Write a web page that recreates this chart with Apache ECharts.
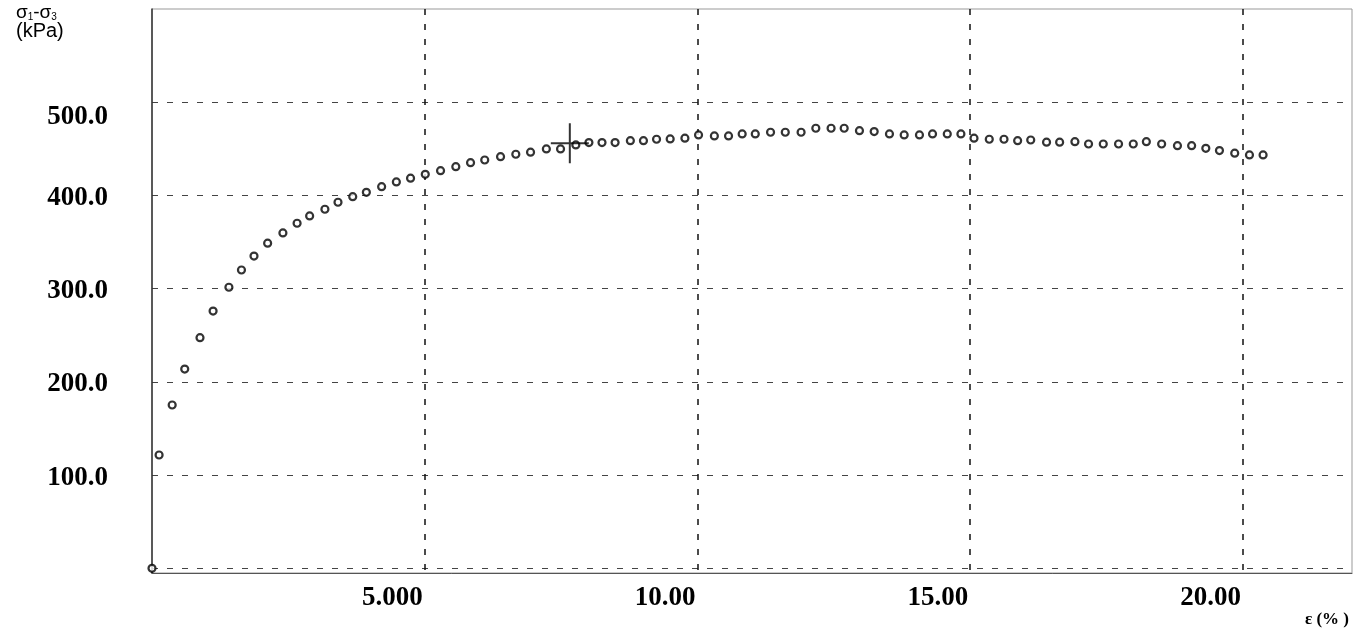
<!DOCTYPE html>
<html>
<head>
<meta charset="utf-8">
<script src="https://cdn.jsdelivr.net/npm/echarts@6/dist/echarts.min.js"></script>
<style>html,body{margin:0;padding:0;background:#fff;}#chart{width:1356px;height:630px;}</style>
</head>
<body>
<div id="chart"></div>
<script>
// strain ε (%)
var strain = [0, 0.13, 0.37, 0.60, 0.88, 1.12, 1.41, 1.64, 1.87, 2.12, 2.40, 2.66, 2.89, 3.17, 3.41, 3.68, 3.93, 4.21, 4.48, 4.74,
  5.01, 5.29, 5.57, 5.84, 6.10, 6.39, 6.67, 6.94, 7.23, 7.49, 7.77, 8.01, 8.25, 8.49, 8.77, 9.01, 9.25, 9.50, 9.77,
  10.02, 10.31, 10.57, 10.82, 11.06, 11.34, 11.61, 11.90, 12.17, 12.45, 12.69, 12.97, 13.24, 13.52, 13.79, 14.07, 14.31, 14.58, 14.83,
  15.07, 15.35, 15.62, 15.87, 16.11, 16.40, 16.64, 16.92, 17.17, 17.44, 17.72, 17.99, 18.23, 18.51, 18.80, 19.06, 19.32, 19.57, 19.85,
  20.12, 20.37];
// deviator stress σ1-σ3 (kPa)
var deviator = [0, 121.6, 175.2, 213.8, 247.4, 276.0, 301.5, 320.0, 335.0, 348.8, 359.8, 370.2, 378.0, 385.2, 392.7, 398.7, 403.4, 409.4, 414.5, 418.5,
  422.7, 426.6, 430.9, 435.2, 438.0, 441.6, 444.2, 446.4, 449.9, 449.9, 454.2, 456.7, 456.7, 456.7, 458.8, 458.8, 460.3, 460.6, 461.4,
  464.9, 463.8, 463.8, 466.0, 466.0, 467.8, 467.8, 467.8, 472.1, 472.1, 472.1, 469.5, 468.5, 466.0, 464.9, 464.9, 466.0, 466.0, 466.0,
  461.4, 460.3, 460.3, 458.8, 459.5, 457.1, 457.1, 457.7, 455.2, 455.2, 455.2, 455.2, 457.7, 455.2, 453.4, 453.4, 450.6, 448.1, 445.3,
  443.5, 443.5];
// peak marker (cross)
var crossX = [7.66];
var crossY = [456];
// axis tick values
var xTicks = [5, 10, 15, 20];
var yTicks = [100, 200, 300, 400, 500];

var points = strain.map(function (x, i) { return [x, deviator[i]]; });
var cross = crossX.map(function (x, i) { return [x, crossY[i]]; });

var labelFont = {fontFamily: 'Liberation Serif', fontSize: 27, fontWeight: 'bold', color: '#000'};

var chart = echarts.init(document.getElementById('chart'), null, {renderer: 'canvas'});
chart.setOption({
  animation: false,
  backgroundColor: '#fff',
  title: [{
    left: 11, top: 3,
    text: '{s|σ}{sub|1}{s|-σ}{sub|3}\n{k|(kPa)}',
    textStyle: {
      fontWeight: 'normal',
      rich: {
        s: {fontFamily: 'Liberation Sans', fontSize: 19, color: '#000', lineHeight: 14, verticalAlign: 'bottom'},
        sub: {fontFamily: 'Liberation Sans', fontSize: 10, color: '#000', lineHeight: 14, verticalAlign: 'bottom', padding: [10, 0, 0, 0]},
        k: {fontFamily: 'Liberation Sans', fontSize: 20, color: '#000', lineHeight: 18}
      }
    }
  }, {
    right: 2, bottom: -3,
    text: 'ε (% )',
    textStyle: {fontFamily: 'Liberation Serif', fontSize: 17, fontWeight: 'bold', color: '#000'}
  }],
  grid: {left: 152, top: 9, right: 4, bottom: 57, show: true, borderColor: '#999', borderWidth: 1, backgroundColor: 'transparent'},
  xAxis: {
    type: 'value', min: 0, max: 22, interval: 5,
    axisLine: {show: true, onZero: false, lineStyle: {color: '#555', width: 1}},
    axisTick: {show: false},
    splitLine: {show: true, showMinLine: false, showMaxLine: false, lineStyle: {color: '#111', type: [6, 9], width: 1.5}},
    axisLabel: Object.assign({
      show: true, align: 'right', padding: [0, 2, 0, 0], margin: 12,
      formatter: function (v) { return xTicks.indexOf(v) >= 0 ? v.toPrecision(4) : ''; }
    }, labelFont)
  },
  yAxis: {
    type: 'value', min: -5, max: 600, splitNumber: 6,
    axisLine: {show: true, onZero: false, lineStyle: {color: '#333', width: 1.5}},
    axisTick: {show: false},
    splitLine: {show: true, showMinLine: false, showMaxLine: false, lineStyle: {color: '#444', type: [6, 9], width: 1}},
    axisLabel: Object.assign({
      show: true, margin: 44,
      formatter: function (v) {
        if (yTicks.indexOf(v) < 0) return '';
        return (v === 500 ? '{hi|' : '{lo|') + v.toFixed(1) + '}';
      },
      rich: {
        hi: Object.assign({padding: [30, 0, 0, 0]}, labelFont),
        lo: Object.assign({padding: [5, 0, 0, 0]}, labelFont)
      }
    }, labelFont)
  },
  series: [{
    type: 'scatter',
    data: points,
    symbol: 'circle',
    symbolSize: 7,
    itemStyle: {color: '#fff', borderColor: '#000', borderWidth: 2.2},
    z: 3
  }, {
    type: 'scatter',
    data: cross,
    symbol: 'path://M0,19 L38,19 L38,21 L0,21 Z M18,0 L20,0 L20,40 L18,40 Z',
    symbolSize: [38, 40],
    itemStyle: {color: '#000'},
    z: 4
  }]
});
</script>
</body>
</html>
